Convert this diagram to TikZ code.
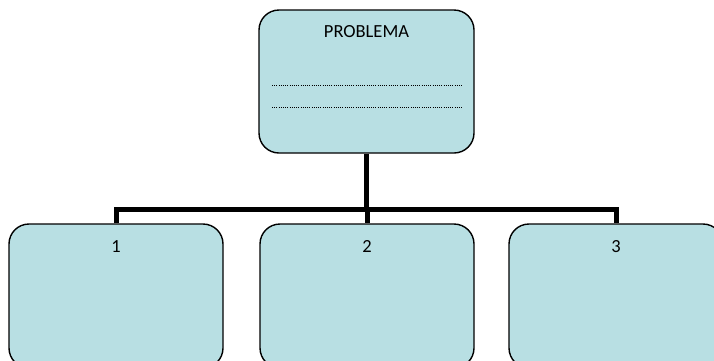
\documentclass[tikz,border=0pt]{standalone}
\usepackage{fontspec}
\setmainfont{Carlito}
\begin{document}
\begin{tikzpicture}[x=1pt,y=-1pt,
  box/.style={draw=black, line width=1.4pt, fill=boxfill, rounded corners=20pt, inner sep=0pt},
  conn/.style={draw=black, line width=5pt, line join=miter},
  lbl/.style={font=\fontsize{18.5}{22}\selectfont, anchor=base, inner sep=0pt},
  dots/.style={draw=black, line width=1pt, dash pattern=on 1pt off 1.2pt}]
\definecolor{boxfill}{HTML}{B8DFE3}
\useasboundingbox (0,0) rectangle (714,360);
\clip (0,0) rectangle (714,360);
\node[box, minimum width=215pt, minimum height=143pt] (p) at (366.5,81.5) {};
\node[box, minimum width=214pt, minimum height=144pt] (b1) at (116,296) {};
\node[box, minimum width=214pt, minimum height=144pt] (b2) at (367,296) {};
\node[box, minimum width=214pt, minimum height=144pt] (b3) at (616,296) {};
\coordinate (j) at (366.5,209);
\draw[conn] (p.south) -- (j);
\draw[conn] (b1.north) |- (j) -| (b3.north);
\draw[conn] (j) -| (b2.north);
\node[lbl] (tp) at (366.5,37.5) {PROBLEMA};
\node[lbl] (t1) at (116,252.5) {1};
\node[lbl] (t2) at (367,252.5) {2};
\node[lbl] (t3) at (616,252.5) {3};
\coordinate (d1a) at (272,85); \coordinate (d1b) at (463,85);
\coordinate (d2a) at (272,107); \coordinate (d2b) at (463,107);
\draw[dots] (d1a) -- (d1b);
\draw[dots] (d2a) -- (d2b);
\end{tikzpicture}
\end{document}
